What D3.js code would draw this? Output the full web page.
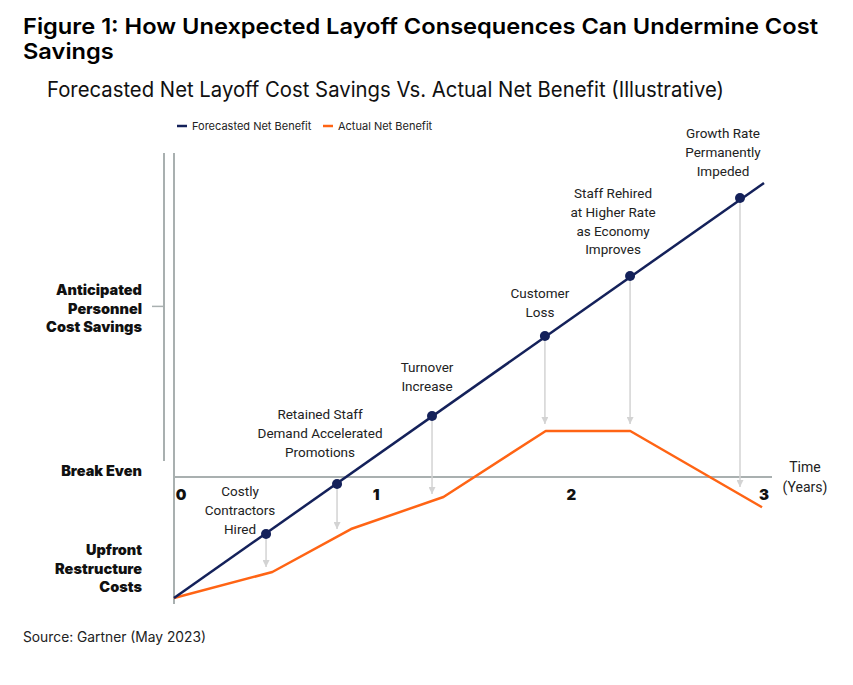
<!DOCTYPE html>
<html><head><meta charset="utf-8">
<script src="https://cdn.jsdelivr.net/npm/d3@7/dist/d3.min.js"></script>
<style>
html,body{margin:0;padding:0;background:#fff;}
svg{display:block;}
</style></head>
<body>
<script>
// ---------- data ----------
const titleLines = ["Figure 1: How Unexpected Layoff Consequences Can Undermine Cost", "Savings"];
const subtitle = "Forecasted Net Layoff Cost Savings Vs. Actual Net Benefit (Illustrative)";
const source = "Source: Gartner (May 2023)";
const seriesNames = ["Forecasted Net Benefit", "Actual Net Benefit"];
const xTickLabels = ["0", "1", "2", "3"];
const xTickValues = [0, 1, 2, 3];
const yLevelLabels = [["Anticipated", "Personnel", "Cost Savings"], ["Break Even"], ["Upfront", "Restructure", "Costs"]];
const yLevelValues = [1.41, 0, -1];
// forecasted net benefit (straight line) – time in years, value in units of upfront cost
const forecastT = [0, 3];
const forecastV = [-1, 2.43];
// actual net benefit
const actualT = [0, 0.50, 0.90, 1.37, 1.89, 2.32, 2.99];
const actualV = [-1, -0.785, -0.43, -0.165, 0.38, 0.38, -0.25];
// events along the forecast line
const eventLabels = [
  ["Costly", "Contractors", "Hired"],
  ["Retained Staff", "Demand Accelerated", "Promotions"],
  ["Turnover", "Increase"],
  ["Customer", "Loss"],
  ["Staff Rehired", "at Higher Rate", "as Economy", "Improves"],
  ["Growth Rate", "Permanently", "Impeded"]
];
const eventT = [0.468, 0.829, 1.312, 1.886, 2.319, 2.878];
const eventForecastV = [-0.471, -0.058, 0.504, 1.165, 1.661, 2.306];
const eventActualArrowV = [-0.744, -0.43, -0.14, 0.438, 0.438, -0.083];

// ---------- layout ----------
const W = 853, H = 685;
const navy = "#14215a", orange = "#ff6414", axisGrey = "#a9b0b0", arrowGrey = "#d3d3d3";
const FONT = "Inter, 'Noto Sans', sans-serif";
const LFONT = "Roboto, Inter, sans-serif";
const svg = d3.select("body").append("svg").attr("width", W).attr("height", H)
  .style("font-family", FONT);

const x = d3.scaleLinear().domain([0, 3]).range([174, 764]);
const y = d3.scaleLinear().domain([-1, 0]).range([598, 477]);

// title (condensed horizontally to the reference width)
const t1 = svg.append("text").attr("x", 23).attr("y", 34).text(titleLines[0])
  .attr("font-size", 22).attr("font-weight", 600).attr("fill", "#000");
const t2 = svg.append("text").attr("x", 23).attr("y", 59).text(titleLines[1])
  .attr("font-size", 22).attr("font-weight", 600).attr("fill", "#000");
const n1 = t1.node().getComputedTextLength();
const k = 795 / n1;
t1.attr("textLength", 795).attr("lengthAdjust", "spacingAndGlyphs");
t2.attr("textLength", t2.node().getComputedTextLength() * k).attr("lengthAdjust", "spacingAndGlyphs");

svg.append("text").attr("x", 47).attr("y", 97).text(subtitle)
  .attr("font-size", 21).attr("font-weight", 400).attr("fill", "#111")
  .attr("textLength", 677).attr("lengthAdjust", "spacingAndGlyphs");

// legend
const legendX = [177, 323];
const legendColors = [navy, orange];
seriesNames.forEach((n, i) => {
  svg.append("line").attr("x1", legendX[i]).attr("x2", legendX[i] + 10)
    .attr("y1", 126).attr("y2", 126).attr("stroke", legendColors[i]).attr("stroke-width", 2.5);
  svg.append("text").attr("x", legendX[i] + 15).attr("y", 130).text(n)
    .attr("font-size", 11).attr("fill", "#222");
});

// axes
const axisTop = 153;
svg.append("line").attr("x1", x(0)).attr("x2", x(0)).attr("y1", axisTop).attr("y2", 604)
  .attr("stroke", axisGrey).attr("stroke-width", 2);
svg.append("line").attr("x1", 164).attr("x2", 164).attr("y1", axisTop).attr("y2", 461)
  .attr("stroke", axisGrey).attr("stroke-width", 2);
svg.append("line").attr("x1", 152).attr("x2", 164).attr("y1", y(yLevelValues[0])).attr("y2", y(yLevelValues[0]))
  .attr("stroke", axisGrey).attr("stroke-width", 1.5);
svg.append("line").attr("x1", x(0)).attr("x2", 772).attr("y1", y(0)).attr("y2", y(0))
  .attr("stroke", axisGrey).attr("stroke-width", 2);

// y level labels
const lineH = 18.5;
yLevelLabels.forEach((lines, i) => {
  const cy = y(yLevelValues[i]);
  const n = lines.length;
  let baseY;
  if (i === 0) baseY = cy - 11;
  else if (i === 1) baseY = cy - 1;
  else baseY = cy - 6 - (n - 1) * lineH;
  const t = svg.append("text").attr("x", 142).attr("text-anchor", "end")
    .attr("font-size", 14.5).attr("font-weight", 900).attr("fill", "#111");
  lines.forEach((l, j) => t.append("tspan").attr("x", 142).attr("y", baseY + j * lineH).text(l));
});

// x tick labels
xTickValues.forEach((v, i) => {
  const px = i === 3 ? x(v) : x(v) + 7 - i * 1.5;
  svg.append("text").attr("x", px).attr("y", 500).attr("text-anchor", "middle")
    .attr("font-size", 15).attr("font-weight", 900).attr("fill", "#111").text(xTickLabels[i]);
});
// axis title
const tt = svg.append("text").attr("text-anchor", "middle").attr("font-size", 14)
  .attr("fill", "#222").style("font-family", LFONT);
tt.append("tspan").attr("x", 805).attr("y", 472).text("Time");
tt.append("tspan").attr("x", 805).attr("y", 492).text("(Years)");

// arrows
const defs = svg.append("defs");
defs.append("marker").attr("id", "arr").attr("viewBox", "0 0 10 10").attr("refX", 10).attr("refY", 5)
  .attr("markerWidth", 7).attr("markerHeight", 7).attr("markerUnits", "userSpaceOnUse").attr("orient", "auto")
  .append("path").attr("d", "M0,0 L10,5 L0,10 Z").attr("fill", arrowGrey);
eventT.forEach((t, i) => {
  svg.append("line").attr("x1", x(t)).attr("x2", x(t))
    .attr("y1", y(eventForecastV[i])).attr("y2", y(eventActualArrowV[i]))
    .attr("stroke", arrowGrey).attr("stroke-width", 1.5).attr("marker-end", "url(#arr)");
});

// lines
const line = d3.line().x(d => x(d[0])).y(d => y(d[1]));
svg.append("path").datum(actualT.map((t, i) => [t, actualV[i]])).attr("d", line)
  .attr("fill", "none").attr("stroke", orange).attr("stroke-width", 2.5).attr("stroke-linejoin", "round");
svg.append("path").datum(forecastT.map((t, i) => [t, forecastV[i]])).attr("d", line)
  .attr("fill", "none").attr("stroke", navy).attr("stroke-width", 2.5);
svg.selectAll("circle.ev").data(eventT).enter().append("circle").attr("class", "ev")
  .attr("cx", d => x(d)).attr("cy", (d, i) => y(eventForecastV[i])).attr("r", 5).attr("fill", navy);

// event labels (offset from dot x, first baseline)
const labelPos = [[-26, 496], [-17, 419], [-5, 372], [-5, 298], [-17, 198], [-17, 138]];
eventLabels.forEach((lines, i) => {
  const cx = x(eventT[i]) + labelPos[i][0];
  const t = svg.append("text").attr("text-anchor", "middle").attr("font-size", 13.5)
    .attr("fill", "#222").style("font-family", LFONT);
  lines.forEach((l, j) => t.append("tspan").attr("x", cx).attr("y", labelPos[i][1] + j * 18.8).text(l));
});

// source
svg.append("text").attr("x", 23).attr("y", 642).attr("font-size", 13.8).attr("fill", "#222").text(source);
</script>
</body></html>
